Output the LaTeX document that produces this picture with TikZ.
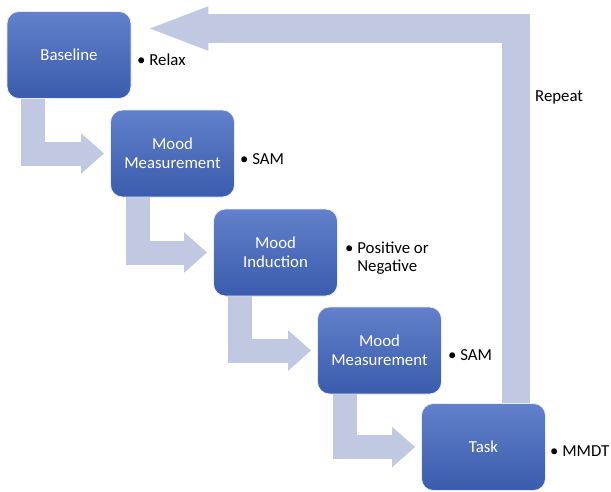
\documentclass[tikz,border=0pt]{standalone}
\usepackage{fontspec}
\setmainfont{Carlito}
\usetikzlibrary{arrows.meta,backgrounds}
\definecolor{arrowfill}{RGB}{193,201,226}
\definecolor{boxtop}{RGB}{98,128,203}
\definecolor{boxbot}{RGB}{58,92,172}
\tikzset{
  stepbox/.style={rectangle, rounded corners=12pt, minimum width=124pt, minimum height=87pt,
    top color=boxtop, bottom color=boxbot, draw=white!85!boxtop, line width=0.8pt,
    text=white, align=center, font=\fontsize{16.8}{19}\selectfont, inner sep=2pt},
  note/.style={anchor=west, align=left, font=\fontsize{16.8}{18}\selectfont, inner sep=0pt},
  bentarrow/.style={draw=arrowfill, line width=24pt, line join=miter,
    -{Triangle[length=23pt,width=39pt,fill=arrowfill]}, shorten >=6pt},
  backarrow/.style={draw=arrowfill, line width=28.5pt, line join=miter,
    -{Triangle[length=63pt,width=39pt,fill=arrowfill]}, shorten >=14pt}
}
\begin{document}
\begin{tikzpicture}[x=1pt,y=-1pt]
\useasboundingbox (0,0) rectangle (611,491);
\node[stepbox] (b1) at (69,55) {Baseline};
\node[stepbox] (b2) at (172.5,153.5) {Mood\\Measurement};
\node[stepbox] (b3) at (275.5,252.5) {Mood\\Induction};
\node[stepbox] (b4) at (379.5,350.5) {Mood\\Measurement};
\node[stepbox] (b5) at (483.5,447) {Task};

\node[note] (n1) at (137,60) {• Relax};
\node[note] (n2) at (240,159) {• SAM};
\node[note] (n3) at (345,258) {• Positive or\\\phantom{• }Negative};
\node[note] (n4) at (448,355) {• SAM};
\node[note] (n5) at (550,451) {• MMDT};
\node[note] (rep) at (535,97) {Repeat};

\begin{scope}[on background layer]
\draw[bentarrow] ([xshift=26.5pt]b1.south west) |- (b2.west);
\draw[bentarrow] ([xshift=27.5pt]b2.south west) |- (b3.west);
\draw[bentarrow] ([xshift=27pt]b3.south west) |- (b4.west);
\draw[bentarrow] ([xshift=27.5pt]b4.south west) |- (b5.west);
\draw[backarrow] ([xshift=32.5pt]b5.north) |- ([yshift=26.5pt]b1.east);
\end{scope}
\end{tikzpicture}
\end{document}
